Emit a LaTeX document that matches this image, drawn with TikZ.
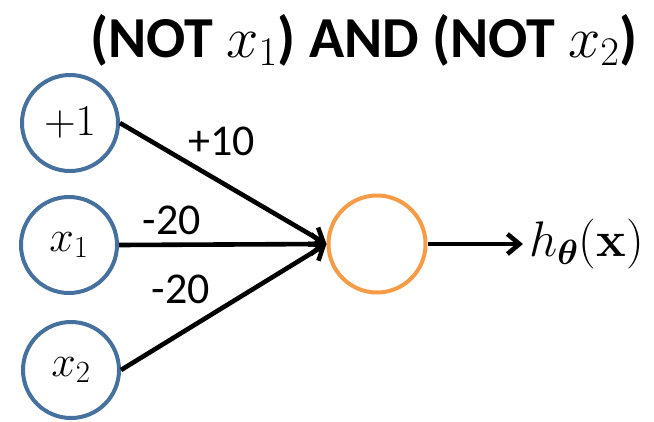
\documentclass[tikz,border=0pt]{standalone}
\usepackage{fix-cm}
\usepackage{amsmath,bm}
\usepackage[no-math]{fontspec}
\newfontfamily\carlito{Carlito}
\usetikzlibrary{arrows.meta}
\definecolor{nodeblue}{RGB}{70,112,158}
\definecolor{nodeorange}{RGB}{247,155,70}
\tikzset{
  unit/.style={circle, draw=nodeblue, line width=4pt, minimum size=96pt, inner sep=0pt, font=\fontsize{44}{48}\selectfont},
  outunit/.style={circle, draw=nodeorange, line width=4pt, minimum size=97pt, inner sep=0pt},
  conn/.style={line width=4.6pt, -{Straight Barb[length=12pt,width=20pt,line width=4.6pt]}},
  weight/.style={font=\carlito\fontsize{44}{48}\selectfont, inner sep=0pt},
}
\begin{document}
\begin{tikzpicture}[x=1pt,y=-1pt]
\useasboundingbox (0,0) rectangle (654,421);
\node[anchor=base, inner sep=0pt, font=\carlito\bfseries\fontsize{58}{62}\selectfont] (title) at (364,57) {(NOT $x_1$) AND (NOT $x_2$)};
\node[unit] (b) at (70,123) {$+1$};
\node[unit] (x1) at (69,245) {$x_1$};
\node[unit] (x2) at (71,370) {$x_2$};
\node[outunit] (out) at (377,244) {};
\node[anchor=west, inner sep=0pt, inner xsep=6pt, font=\fontsize{50}{54}\selectfont] (h) at (523,244) {$h_{\bm{\theta}}(\mathbf{x})$};
\draw[conn] (b.east) -- (out.west);
\draw[conn] (x1.east) -- (out.west);
\draw[conn] (x2.east) -- (out.west);
\draw[conn] (out.east) -- (h.west);
\node[weight] (w0) at (222,141) {+10};
\node[weight] (w1) at (172,220) {-20};
\node[weight] (w2) at (181,289) {-20};
\end{tikzpicture}
\end{document}
